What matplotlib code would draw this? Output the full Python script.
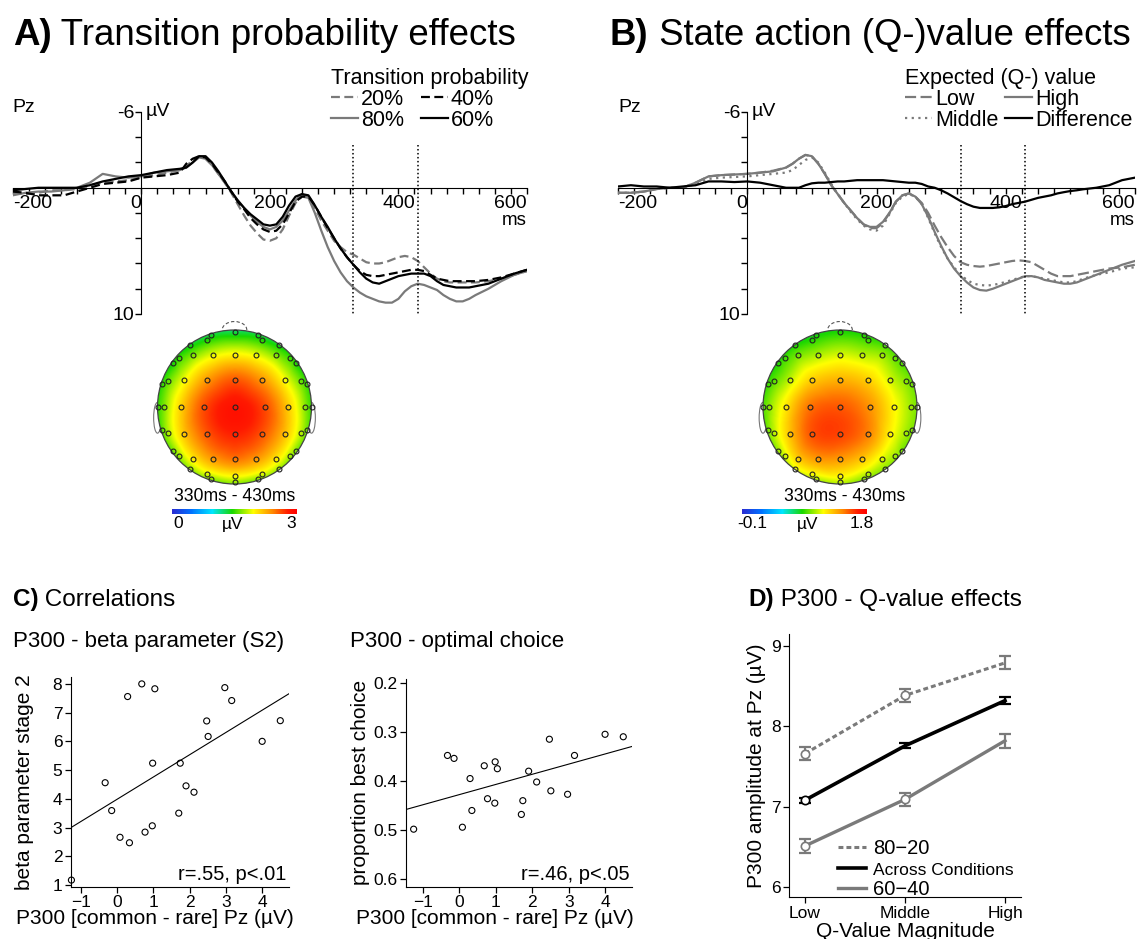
import numpy as np
import matplotlib
matplotlib.use('Agg')
import matplotlib.pyplot as plt
import matplotlib.tri as mtri
from matplotlib.colors import LinearSegmentedColormap
from matplotlib.patches import Circle, Ellipse, Arc
from matplotlib.lines import Line2D

plt.rcParams['font.family'] = ['Liberation Sans', 'DejaVu Sans']

W, H = 1139, 939

# ---------------- dados: ERPs em Pz (µV, negativo para cima) ----------------
TEMPO = [-200, -180, -160, -140, -120, -100, -80, -60, -40, -20, 0, 20, 40, 60,
         70, 80, 90, 100, 110, 120, 130,
         140, 150, 160, 170, 180, 190, 200, 210, 220, 230, 240, 250,
         260, 270, 280, 290, 300, 310, 320, 330, 340, 350,
         360, 370, 380, 390, 400, 410, 420, 430, 440, 450,
         460, 470, 480, 490, 500, 510, 520,
         540, 560, 580, 600]
JANELA = [330, 430]

A_80 = [0.6, 0.4, 0.3, 0.3, 0.2, 0.0, -0.4, -1.1, -0.9, -0.8, -0.9, -1.2, -1.3, -1.4,
        -1.6, -2.0, -2.4, -2.3, -1.8, -1.1, -0.4,
        0.3, 1.0, 1.6, 2.2, 2.7, 3.1, 3.3, 3.1, 2.6, 1.8, 1.0, 0.5,
        0.8, 2.0, 3.4, 4.7, 5.8, 6.7, 7.4, 7.9, 8.3, 8.6,
        8.8, 9.0, 9.1, 9.1, 8.8, 8.2, 7.8, 7.6, 7.7, 7.9,
        8.1, 8.5, 8.8, 9.0, 9.0, 8.8, 8.5,
        8.0, 7.4, 6.9, 6.6]
A_20 = [0.4, 0.5, 0.4, 0.2, 0.2, 0.1, -0.2, -0.4, -0.5, -0.6, -0.8, -1.0, -1.2, -1.4,
        -1.7, -2.2, -2.5, -2.3, -1.8, -1.1, -0.4,
        0.4, 1.3, 2.2, 3.0, 3.6, 4.1, 4.2, 4.0, 3.3, 2.2, 1.2, 0.7,
        0.8, 1.6, 2.6, 3.4, 4.2, 4.7, 5.1, 5.3, 5.6, 5.9,
        6.0, 6.0, 5.9, 5.7, 5.5, 5.4, 5.5, 5.8, 6.3, 6.8,
        7.2, 7.4, 7.5, 7.5, 7.5, 7.5, 7.5,
        7.4, 7.2, 6.9, 6.6]
A_40 = [0.3, 0.4, 0.6, 0.6, 0.6, 0.3, 0.0, -0.3, -0.4, -0.5, -0.8, -0.9, -1.0, -1.2,
        -1.9, -2.3, -2.5, -2.4, -1.9, -1.2, -0.5,
        0.3, 1.1, 1.7, 2.4, 2.9, 3.3, 3.5, 3.4, 2.9, 2.0, 1.1, 0.7,
        0.7, 1.4, 2.3, 3.2, 4.0, 4.8, 5.5, 6.1, 6.6, 6.9,
        7.0, 7.0, 6.9, 6.8, 6.7, 6.6, 6.5, 6.5, 6.6, 6.9,
        7.2, 7.3, 7.4, 7.4, 7.4, 7.4, 7.4,
        7.3, 7.1, 6.8, 6.5]
A_60 = [0.2, 0.1, 0.0, 0.0, 0.0, 0.0, -0.2, -0.5, -0.7, -0.9, -1.0, -1.2, -1.4, -1.5,
        -1.6, -2.0, -2.5, -2.5, -2.0, -1.3, -0.5,
        0.3, 1.0, 1.6, 2.1, 2.5, 2.9, 3.0, 2.9, 2.3, 1.4, 0.7, 0.5,
        0.6, 1.4, 2.3, 3.1, 4.0, 4.8, 5.5, 6.1, 6.7, 7.2,
        7.5, 7.6, 7.4, 7.2, 7.0, 6.9, 6.8, 6.8, 6.8, 7.0,
        7.4, 7.7, 7.8, 7.9, 7.9, 7.9, 7.8,
        7.6, 7.2, 6.8, 6.5]

B_BAIXO = [0.4, 0.4, 0.3, 0.1, 0.0, 0.0, -0.4, -0.9, -1.0, -1.05, -1.1, -1.2, -1.35, -1.6,
           -1.9, -2.3, -2.6, -2.5, -1.9, -1.1, -0.2,
           0.5, 1.2, 1.8, 2.4, 2.9, 3.2, 3.2, 2.8, 2.0, 1.1, 0.6, 0.45,
           0.7, 1.2, 2.0, 3.0, 3.9, 4.7, 5.4, 5.9, 6.1, 6.2,
           6.25, 6.2, 6.1, 6.0, 5.9, 5.8, 5.75, 5.8, 5.9, 6.2,
           6.5, 6.8, 7.0, 7.0, 7.0, 6.9, 6.8,
           6.6, 6.4, 6.3, 6.1]
B_MEDIO = [0.4, 0.4, 0.3, 0.1, 0.0, 0.0, -0.3, -0.7, -0.8, -0.85, -0.9, -1.0, -1.1, -1.2,
           -1.4, -1.8, -2.2, -2.4, -2.0, -1.2, -0.3,
           0.5, 1.2, 1.9, 2.5, 3.0, 3.3, 3.4, 3.0, 2.1, 1.2, 0.7, 0.5,
           0.7, 1.3, 2.4, 3.6, 4.7, 5.6, 6.3, 6.9, 7.3, 7.6,
           7.7, 7.75, 7.7, 7.6, 7.45, 7.3, 7.15, 7.0, 7.0, 7.1,
           7.2, 7.3, 7.4, 7.5, 7.5, 7.4, 7.2,
           6.9, 6.7, 6.4, 6.3]
B_ALTO = [0.4, 0.4, 0.3, 0.1, 0.0, 0.0, -0.4, -0.9, -1.0, -1.05, -1.1, -1.2, -1.3, -1.6,
          -1.9, -2.3, -2.6, -2.5, -1.9, -1.1, -0.2,
          0.5, 1.2, 1.8, 2.4, 2.9, 3.1, 3.1, 2.7, 2.0, 1.1, 0.6, 0.45,
          0.7, 1.3, 2.3, 3.5, 4.6, 5.6, 6.4, 7.0, 7.5, 7.9,
          8.1, 8.15, 8.0, 7.8, 7.6, 7.4, 7.2, 7.0, 7.0, 7.1,
          7.3, 7.4, 7.5, 7.6, 7.6, 7.5, 7.3,
          6.9, 6.5, 6.1, 5.8]
B_DIF = [-0.1, -0.2, -0.1, -0.1, 0.0, -0.1, -0.2, -0.5, -0.5, -0.45, -0.5, -0.4, -0.2, 0.0,
         0.0, 0.0, -0.2, -0.35, -0.4, -0.4, -0.45,
         -0.5, -0.5, -0.55, -0.6, -0.6, -0.6, -0.6, -0.6, -0.55, -0.5, -0.45, -0.4,
         -0.4, -0.3, -0.1, 0.0, 0.2, 0.45, 0.75, 1.05, 1.3, 1.5,
         1.6, 1.6, 1.6, 1.55, 1.45, 1.3, 1.2, 1.1, 0.95, 0.8,
         0.7, 0.6, 0.45, 0.35, 0.26, 0.2, 0.12,
         0.0, -0.2, -0.6, -0.8]

# ---------------- dados: topografias (330-430 ms) ----------------
EL_X = [0, -0.31, 0.31, -0.36, 0.36, -0.58, 0.58, -0.72, 0.72, -0.80, 0.80,
        -0.54, -0.28, 0, 0.28, 0.54,
        -0.94, 0.94, -0.86, -0.655, -0.36, 0, 0.36, 0.655, 0.86,
        -1.0, -0.92, -0.70, -0.39, 0, 0.39, 0.70, 0.92, 1.0,
        -0.94, 0.94, -0.86, -0.655, -0.36, 0, 0.36, 0.655, 0.86,
        -0.80, 0.80, -0.72, 0.72, -0.54, -0.28, 0, 0.28, 0.54,
        -0.58, 0.58, -0.36, 0.36, -0.31, 0.31, 0, 0]
EL_Y = [0.98, 0.94, 0.94, 0.875, 0.875, 0.80, 0.80, 0.63, 0.63, 0.57, 0.57,
        0.68, 0.68, 0.68, 0.68, 0.68,
        0.30, 0.30, 0.34, 0.35, 0.35, 0.35, 0.35, 0.35, 0.34,
        0, 0, 0, 0, 0, 0, 0, 0, 0,
        -0.30, -0.30, -0.34, -0.35, -0.35, -0.35, -0.35, -0.35, -0.34,
        -0.57, -0.57, -0.63, -0.63, -0.68, -0.68, -0.68, -0.68, -0.68,
        -0.80, -0.80, -0.875, -0.875, -0.94, -0.94, -0.90, -0.98]
TOPO_A = [1.15, 1.2, 1.2, 1.3, 1.3, 1.25, 1.25, 1.4, 1.4, 1.3, 1.3,
          1.55, 1.8, 1.9, 1.8, 1.55,
          1.38, 1.38, 1.5, 1.85, 2.3, 2.55, 2.3, 1.85, 1.5,
          1.4, 1.55, 2.05, 2.6, 2.85, 2.6, 2.05, 1.55, 1.4,
          1.45, 1.45, 1.65, 2.1, 2.55, 2.75, 2.55, 2.1, 1.65,
          1.5, 1.5, 1.6, 1.6, 1.9, 2.25, 2.4, 2.25, 1.9,
          1.55, 1.55, 1.7, 1.7, 1.5, 1.5, 1.8, 1.55]
TOPO_B = [0.76, 0.74, 0.77, 0.77, 0.81, 0.76, 0.81, 0.81, 0.87, 0.77, 0.85,
          0.89, 0.98, 1.04, 1.0, 0.95,
          0.79, 0.89, 0.85, 1.0, 1.23, 1.31, 1.23, 1.04, 0.93,
          0.81, 0.91, 1.15, 1.46, 1.53, 1.38, 1.12, 0.96, 0.91,
          0.85, 0.93, 0.96, 1.23, 1.53, 1.57, 1.42, 1.12, 0.96,
          0.91, 0.89, 0.98, 0.95, 1.19, 1.34, 1.34, 1.23, 1.04,
          1.0, 0.93, 1.04, 0.96, 0.93, 0.89, 1.08, 0.95]

# ---------------- dados: correlações ----------------
P300_DIF = [-1.26, -0.33, -0.15, 0.08, 0.29, 0.34, 0.68, 0.77, 0.97, 0.98, 1.04,
            1.70, 1.74, 1.90, 2.12, 2.47, 2.51, 2.97, 3.16, 4.0, 4.5]
BETA_S2 = [1.17, 4.56, 3.59, 2.66, 7.56, 2.47, 8.0, 2.84, 3.06, 5.24, 7.83,
           3.50, 5.24, 4.45, 4.23, 6.71, 6.17, 7.87, 7.42, 6.0, 6.72]
ESCOLHA = [0.498, 0.348, 0.354, 0.494, 0.395, 0.46, 0.369, 0.436, 0.445, 0.361, 0.375,
           0.468, 0.44, 0.38, 0.402, 0.315, 0.42, 0.427, 0.348, 0.305, 0.31]

# ---------------- dados: P300 por magnitude do valor Q ----------------
Q_NIVEIS = ['Low', 'Middle', 'High']
P300_8020 = [7.66, 8.385, 8.79]
ERRO_8020 = [0.08, 0.08, 0.08]
P300_TODAS = [7.08, 7.757, 8.32]
ERRO_TODAS = [0.03, 0.03, 0.04]
P300_6040 = [6.51, 7.09, 7.82]
ERRO_6040 = [0.085, 0.085, 0.09]

CINZA = '#7a7a7a'
MAPA = LinearSegmentedColormap.from_list('topo', [
    (0.0, '#2a2ad0'), (0.15, '#0070ff'), (0.32, '#00e5ff'), (0.48, '#19d700'),
    (0.65, '#ffff00'), (0.80, '#ff8c00'), (0.93, '#ff1a00'), (1.0, '#ff0000')])

fig = plt.figure(figsize=(W / 100, H / 100), dpi=100)


def caixa(x0, y0, x1, y1):
    # eixos posicionados em pixels (origem no canto superior esquerdo)
    return fig.add_axes([x0 / W, 1 - y1 / H, (x1 - x0) / W, (y1 - y0) / H])


def texto(x, y, s, **kw):
    return fig.text(x / W, 1 - y / H, s, **kw)


def titulo(x, y, negrito, resto, tam):
    t = texto(x, y, negrito, fontsize=tam, fontweight='bold', va='baseline')
    bb = t.get_window_extent(renderer=fig.canvas.get_renderer())
    texto(bb.x1, y, ' ' + resto, fontsize=tam, va='baseline')


def painel_erp(x0, x1, series, ordem, titulo_leg, leg_x, espaco_col, pz_x):
    ax = caixa(x0, 112, x1, 314)
    ax.set_xlim(-200, 600)
    ax.set_ylim(10, -6)
    ax.patch.set_visible(False)
    ax.spines[['top', 'right']].set_visible(False)
    ax.spines['left'].set_position(('data', 0))
    ax.spines['bottom'].set_position(('data', 0))
    linhas = {}
    for ys, cor, estilo, rotulo in series:
        linhas[rotulo], = ax.plot(TEMPO, ys, color=cor, ls=estilo, lw=1.6)
    ax.vlines(JANELA, -3.4, 10, colors='k', linestyles=(0, (1, 1.6)), lw=1.1)
    ax.set_xticks([-200, 0, 200, 400, 600], ['-200', '0', '200', '400', '600'], fontsize=14)
    ax.set_xticks(np.arange(-200, 601, 25), minor=True)
    ax.set_yticks([-6, 10], ['-6', '10'], fontsize=14)
    ax.set_yticks([-4, -2, 2, 4, 6, 8], minor=True)
    ax.tick_params(which='both', direction='out', length=4, width=1, pad=1)
    rot = ax.get_xticklabels()
    rot[0].set_ha('left')
    rot[1].set_ha('right')
    rot[4].set_ha('right')
    ax.annotate('µV', (0, -6), xytext=(3, 0), textcoords='offset points',
                ha='left', va='center', fontsize=14)
    ax.annotate('ms', (600, 0), xytext=(0, -27), textcoords='offset points',
                ha='right', va='baseline', fontsize=13.5)
    texto(pz_x, 108, 'Pz', fontsize=14, va='center')
    ax.legend([linhas[r] for r in ordem], ordem, ncol=2, title=titulo_leg,
              loc='upper left', bbox_to_anchor=(leg_x / W, 1 - 68 / H),
              bbox_transform=fig.transFigure, frameon=False, fontsize=15.5,
              title_fontsize=15.5, handlelength=1.25, handletextpad=0.15,
              columnspacing=espaco_col, labelspacing=0.0, borderpad=0,
              borderaxespad=0, alignment='left')
    return ax


def painel_topo(cx, cy, valores, vmin, vmax, barra_x0, rotulos, pos_rotulos, texto_x):
    R = 77.0
    m = 1.25
    ax = caixa(cx - R * m, cy - R * m, cx + R * m, cy + R * m)
    ax.set_xlim(-m, m)
    ax.set_ylim(-m, m)
    ax.axis('off')
    tri = mtri.Triangulation(np.array(EL_X) * 1.06, np.array(EL_Y) * 1.06)
    interp = mtri.CubicTriInterpolator(tri, np.array(valores), kind='geom')
    g = np.linspace(-1.01, 1.01, 303)
    gx, gy = np.meshgrid(g, g)
    z = interp(gx, gy)
    im = ax.imshow(z, extent=(-1.01, 1.01, -1.01, 1.01), origin='lower', cmap=MAPA,
                   vmin=vmin, vmax=vmax, interpolation='bilinear', zorder=2)
    im.set_clip_path(Circle((0, 0), 1.0, transform=ax.transData))
    for s in (-1, 1):
        ax.add_patch(Ellipse((s * 1.0, -0.14), 0.1, 0.4, fill=False, ec='#777777', lw=0.8, zorder=1))
    ax.add_patch(Arc((0, 1.0), 0.32, 0.22, theta1=0, theta2=180, ec='#555555', lw=0.8,
                     ls=(0, (3, 2)), zorder=1))
    ax.add_patch(Circle((0, 0), 1.0, fill=False, ec='#444444', lw=0.9, zorder=3))
    ax.plot(EL_X, EL_Y, 'o', ms=3.5, mfc='none', mec='#222222', mew=0.8, zorder=4)
    texto(texto_x, 497, '330ms - 430ms', ha='center', va='center', fontsize=12.7)
    cax = caixa(barra_x0, 509, barra_x0 + 125, 514)
    cb = fig.colorbar(im, cax=cax, orientation='horizontal')
    cb.set_ticks([])
    cb.outline.set_visible(False)
    for xr, r in zip(pos_rotulos, rotulos):
        texto(xr, 524, r, ha='center', va='center', fontsize=12.5)


def painel_disp(x0, y0, x1, y1, ys, xlim, ylim, yticks, ylabel, texto_r, xlab_cx, ylab_dir):
    ax = caixa(x0, y0, x1, y1)
    ax.scatter(P300_DIF, ys, s=19, facecolors='none', edgecolors='k', linewidths=0.8,
               clip_on=False, zorder=3)
    coef = np.polyfit(P300_DIF, ys, 1)
    xx = np.array(xlim)
    ax.plot(xx, np.polyval(coef, xx), color='k', lw=0.8)
    ax.set_xlim(xlim)
    ax.set_ylim(ylim)
    ax.spines[['top', 'right']].set_visible(False)
    ax.set_xticks([-1, 0, 1, 2, 3, 4])
    ax.set_yticks(yticks)
    ax.tick_params(direction='out', length=4, width=0.9, labelsize=12.5, pad=2)
    ax.set_xlabel('P300 [common - rare] Pz (µV)', fontsize=15)
    ax.set_ylabel(ylabel, fontsize=15)
    ax.xaxis.set_label_coords((xlab_cx - x0) / (x1 - x0), (y1 - 909) / (y1 - y0))
    ax.yaxis.set_label_coords((ylab_dir - x0) / (x1 - x0), 0.5)
    ax.text(0.99, 0.015, texto_r, transform=ax.transAxes, ha='right', va='bottom', fontsize=14.5)
    return ax


# ---------------- A) e B) ----------------
titulo(12.7, 45, 'A)', 'Transition probability effects', 26.5)
titulo(610, 45, 'B)', 'State action (Q-)value effects', 26.3)

painel_erp(12.7, 527, [(A_80, CINZA, '-', '80%'), (A_20, CINZA, (0, (4, 2)), '20%'),
                       (A_40, 'k', (0, (4, 2)), '40%'), (A_60, 'k', '-', '60%')],
           ['20%', '80%', '40%', '60%'], 'Transition probability', 331, 0.76, 12)
painel_erp(618, 1135, [(B_BAIXO, CINZA, (0, (5, 2)), 'Low'), (B_MEDIO, CINZA, (0, (1, 2)), 'Middle'),
                       (B_ALTO, CINZA, '-', 'High'), (B_DIF, 'k', '-', 'Difference')],
           ['Low', 'Middle', 'High', 'Difference'], 'Expected (Q-) value', 905, 0.3, 618)

painel_topo(234.5, 407, TOPO_A, 0, 3, 172, ['0', 'µV', '3'], [178, 233, 291], 234.5)
painel_topo(840, 407, TOPO_B, -0.1, 1.8, 742, ['-0.1', 'µV', '1.8'], [752, 808, 862], 845)

# ---------------- C) ----------------
titulo(12.7, 606, 'C)', 'Correlations', 17.5)
texto(12.7, 647, 'P300 - beta parameter (S2)', fontsize=16, va='baseline')
texto(350, 647, 'P300 - optimal choice', fontsize=16, va='baseline')

painel_disp(70.7, 677, 289, 886.7, BETA_S2, (-1.28, 4.74), (0.94, 8.24),
            [1, 2, 3, 4, 5, 6, 7, 8], 'beta parameter stage 2', 'r=.55, p<.01', 155, 34)
painel_disp(406, 679, 632, 886.7, ESCOLHA, (-1.47, 4.74), (0.615, 0.1925),
            [0.2, 0.3, 0.4, 0.5, 0.6], 'proportion best choice', 'r=.46, p<.05', 495, 370)

# ---------------- D) ----------------
titulo(748, 606, 'D)', 'P300 - Q-value effects', 17.5)
axd = caixa(789.3, 634, 1021, 897.3)
xq = np.arange(1, len(Q_NIVEIS) + 1)
estilos_d = [(P300_8020, ERRO_8020, CINZA, (0, (1.6, 1.0)), 2.2, [0, 1], '80\u221220'),
             (P300_TODAS, ERRO_TODAS, 'k', '-', 2.6, [0], 'Across Conditions'),
             (P300_6040, ERRO_6040, CINZA, '-', 2.4, [0, 1], '60\u221240')]
alcas = []
for ys, err, cor, ls, lw, marcas, rotulo in estilos_d:
    axd.errorbar(xq, ys, yerr=err, fmt='none', ecolor=cor, elinewidth=1.6, capsize=4,
                 capthick=1.6, zorder=2)
    axd.plot(xq, ys, color=cor, ls=ls, lw=lw, marker='o', ms=6, mfc='white', mec=cor,
             mew=1.2, markevery=marcas, zorder=3)
    alcas.append(Line2D([], [], color=cor, ls=ls, lw=lw))
axd.set_xlim(0.843, 3.16)
axd.set_ylim(5.87, 9.15)
axd.set_xticks(xq, Q_NIVEIS)
axd.set_yticks([6, 7, 8, 9])
axd.spines[['top', 'right']].set_visible(False)
axd.tick_params(direction='out', length=4, width=0.9, labelsize=12.5, pad=2)
axd.set_xlabel('Q-Value Magnitude', fontsize=15, labelpad=1)
axd.set_ylabel('P300 amplitude at Pz (µV)', fontsize=15, labelpad=4)
leg = axd.legend(alcas, [e[-1] for e in estilos_d], loc='lower left',
                 bbox_to_anchor=(838 / W, 1 - 899 / H), bbox_transform=fig.transFigure,
                 frameon=False, fontsize=14.5, handlelength=1.4, handletextpad=0.35,
                 labelspacing=0.12, borderpad=0, borderaxespad=0)
leg.get_texts()[1].set_fontsize(12.5)

fig.savefig('out.png', dpi=100)
